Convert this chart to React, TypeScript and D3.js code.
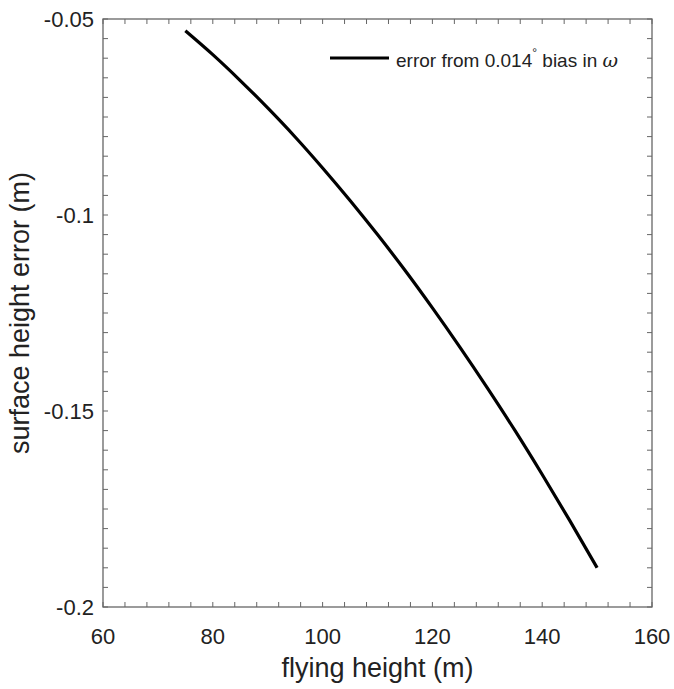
import React from "react";
import * as d3 from "d3";

// flying height (m) and surface height error (m)
const flyingHeight = [75, 80, 85, 90, 95, 100, 105, 110, 115, 120, 125, 130, 135, 140, 145, 150];
const heightError = [
  -0.053, -0.0591, -0.0657, -0.0727, -0.0801, -0.088, -0.0963, -0.105,
  -0.1141, -0.1237, -0.1337, -0.1441, -0.1549, -0.1662, -0.1779, -0.19,
];
const xTicks = [60, 80, 100, 120, 140, 160];
const yTicks = [-0.05, -0.1, -0.15, -0.2];
const yTickLabels = ["-0.05", "-0.1", "-0.15", "-0.2"];

const W = 674;
const H = 689;
const m = { left: 103, right: 22, top: 19, bottom: 82 };
const font = "'Liberation Sans', Arial, Helvetica, sans-serif";
const axisColor = "#666";

export default function App() {
  const x = d3.scaleLinear().domain([60, 160]).range([m.left, W - m.right]);
  const y = d3.scaleLinear().domain([-0.2, -0.05]).range([H - m.bottom, m.top]);
  const [x0, x1] = x.range();
  const [y0, y1] = y.range();

  const minorX = d3.range(60, 160.001, 4);
  const minorY = d3.range(-0.2, -0.0499, 0.005);
  const tl = 5;

  const line = d3
    .line<number>()
    .x((d) => x(d))
    .y((_, i) => y(heightError[i]))
    .curve(d3.curveMonotoneX);

  return (
    <svg
      width={W}
      height={H}
      style={{ position: "absolute", left: 0, top: 0, background: "#fff" }}
      fontFamily={font}
    >
      <rect x={0} y={0} width={W} height={H} fill="#fff" />
      {/* ticks, inward on all four sides */}
      <g stroke={axisColor} strokeWidth={1}>
        {minorX.map((v) => (
          <g key={"x" + v}>
            <line x1={x(v)} x2={x(v)} y1={y0} y2={y0 - tl} />
            <line x1={x(v)} x2={x(v)} y1={y1} y2={y1 + tl} />
          </g>
        ))}
        {minorY.map((v, i) => (
          <g key={"y" + i}>
            <line x1={x0} x2={x0 + tl} y1={y(v)} y2={y(v)} />
            <line x1={x1} x2={x1 - tl} y1={y(v)} y2={y(v)} />
          </g>
        ))}
        <rect x={x0} y={y1} width={x1 - x0} height={y0 - y1} fill="none" strokeWidth={1.3} />
      </g>

      <path d={line(flyingHeight) ?? ""} fill="none" stroke="#000" strokeWidth={3.2} />

      {/* tick labels */}
      <g fontSize={22} fill="#222">
        {xTicks.map((v) => (
          <text key={v} x={x(v)} y={y0 + 37} textAnchor="middle">
            {v}
          </text>
        ))}
        {yTicks.map((v, i) => (
          <text key={v} x={x0 - 9} y={y(v) + 8} textAnchor="end">
            {yTickLabels[i]}
          </text>
        ))}
      </g>

      {/* axis titles */}
      <text x={(x0 + x1) / 2} y={677} textAnchor="middle" fontSize={27} fill="#222">
        flying height (m)
      </text>
      <text
        transform={`translate(29,${(y0 + y1) / 2}) rotate(-90)`}
        textAnchor="middle"
        fontSize={27}
        fill="#222"
      >
        surface height error (m)
      </text>

      {/* legend */}
      <line x1={330} x2={389} y1={58} y2={58} stroke="#000" strokeWidth={3.2} />
      <text x={396} y={67} fontSize={19} fill="#222">
        error from 0.014
        <tspan dy={-10} fontSize={12}>
          °
        </tspan>
        <tspan dy={10}> bias in </tspan>
        <tspan fontStyle="italic" fontFamily="'DejaVu Serif', serif">
          ω
        </tspan>
      </text>
    </svg>
  );
}
